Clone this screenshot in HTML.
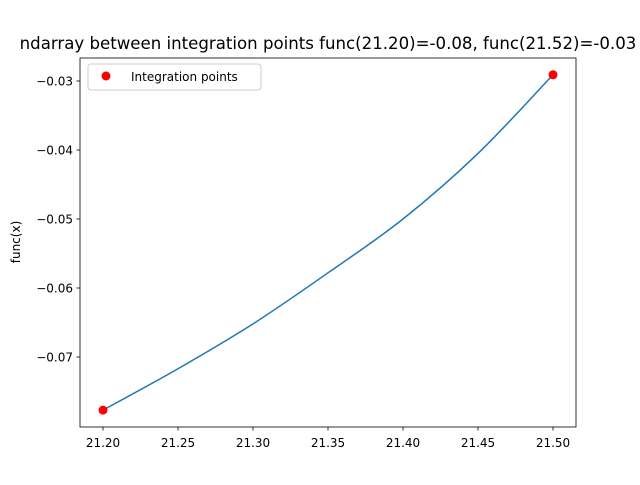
<!DOCTYPE html>
<html><head><meta charset="utf-8"><style>
body{margin:0;background:#fff;font-family:"Liberation Sans","DejaVu Sans",sans-serif}
svg text{font-family:"DejaVu Sans","Liberation Sans",sans-serif}
</style></head><body>
<svg id="chart" width="640" height="480" xmlns="http://www.w3.org/2000/svg">
<rect width="640" height="480" fill="#fff"/>
<text x="328" y="49" font-size="16.6" text-anchor="middle" fill="#000">ndarray between integration points func(21.20)=-0.08, func(21.52)=-0.03</text>
<g id="plot"></g>
<rect x="80" y="58" width="496" height="369" fill="none" stroke="#000" stroke-width="0.8"/>
<text transform="translate(20,242) rotate(-90)" font-size="12" text-anchor="middle">func(x)</text>
<g>
<rect x="88" y="64" width="173" height="26" rx="3" fill="#fff" stroke="#ccc" stroke-width="1"/>
<circle cx="106" cy="76" r="4.5" fill="red"/>
<text x="131" y="81" font-size="12">Integration points</text>
</g>
</svg>
<script>
const xTicks=[21.20,21.25,21.30,21.35,21.40,21.45,21.50];
const yTicks=[-0.07,-0.06,-0.05,-0.04,-0.03];
const curveX=[21.20,21.25,21.30,21.35,21.40,21.45,21.50];
const curveY=[-0.0777,-0.0717,-0.0652,-0.0578,-0.0500,-0.0405,-0.0291];
const pointsX=[21.20,21.50];
const pointsY=[-0.0777,-0.0291];
const xs=v=>103+(v-21.20)*1500;
const ys=v=>81+(-0.03-v)*6900;
const NS="http://www.w3.org/2000/svg";
const g=document.getElementById('plot');
function mk(t,a){const e=document.createElementNS(NS,t);for(const k in a)e.setAttribute(k,a[k]);g.appendChild(e);return e;}
xTicks.forEach(v=>{
 const l=mk('line',{x1:xs(v),x2:xs(v),y1:427,y2:430.5,stroke:'#000','stroke-width':0.8});
 
 
 const t=mk('text',{x:xs(v),y:447,'font-size':12,'text-anchor':'middle'});t.textContent=v.toFixed(2);
 
 
});
yTicks.forEach(v=>{
 const l=mk('line',{x1:76.5,x2:80,y1:ys(v),y2:ys(v),stroke:'#000','stroke-width':0.8});
 
 
 const t=mk('text',{x:73,y:ys(v)+4.5,'font-size':12,'text-anchor':'end'});t.textContent='\u2212'+Math.abs(v).toFixed(2);
 
 
});
const P=curveX.map((x,i)=>[xs(x),ys(curveY[i])]);
let d='M'+P[0].join(',');
for(let i=0;i<P.length-1;i++){const p0=P[i-1]||P[i],p1=P[i],p2=P[i+1],p3=P[i+2]||P[i+1];
 d+=` C${p1[0]+(p2[0]-p0[0])/6},${p1[1]+(p2[1]-p0[1])/6} ${p2[0]-(p3[0]-p1[0])/6},${p2[1]-(p3[1]-p1[1])/6} ${p2[0]},${p2[1]}`;}
const path=mk('path',{d:d,fill:'none',stroke:'#1f77b4','stroke-width':1.5});


pointsX.forEach((x,i)=>{
 const c=mk('circle',{cx:xs(x),cy:ys(pointsY[i]),r:4.5,fill:'red'});
 
 
});
</script>
</body></html>
